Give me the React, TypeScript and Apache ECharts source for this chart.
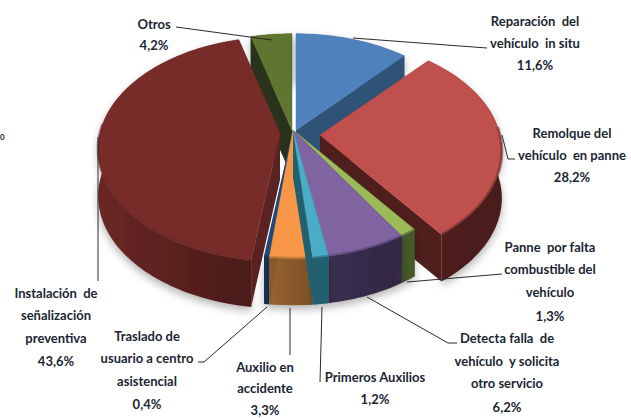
import React, { useEffect, useRef } from "react";
import * as echarts from "echarts";

const categories = [
  "Reparación del vehículo in situ",
  "Remolque del vehículo en panne",
  "Panne por falta combustible del vehículo",
  "Detecta falla de vehículo y solicita otro servicio",
  "Primeros Auxilios",
  "Auxilio en accidente",
  "Traslado de usuario a centro asistencial",
  "Instalación de señalización preventiva",
  "Otros",
];
const values = [11.6, 28.2, 1.3, 6.2, 1.2, 3.3, 0.4, 43.6, 4.2];
const topColors = ["#4F81BD", "#C0504D", "#9BBB59", "#8064A2", "#4BACC6", "#F79646", "#1F497D", "#772C2A", "#5F7530"];
const rimLeft = ["#35587F", "#4F1F1D", "#46592A", "#3A2F50", "#21606F", "#96622F", "#17325A", "#6B2725", "#2A3315"];
const rimRight = ["#35587F", "#4A1C1A", "#46592A", "#2F2740", "#21606F", "#7E5228", "#17325A", "#4A1A19", "#2A3315"];
const edgeColors = ["#2F5277", "#4F1F1D", "#46592A", "#342A48", "#21606F", "#8A5A2C", "#17325A", "#5A2321", "#29321A"];
const explodeX = [3, 27, 0, 0, 0, 0, 0, -13, -1];
const explodeY = [0, 5, 0, 0, 0, 0, 0, 3, 0];
const drawOrder = [8, 0, 7, 1, 2, 3, 6, 5, 4];

const CX = 293, CY = 130, RX = 180, RY = 110, K = 1 / 7, DEPTH = 47;

const labels: { lines: string[]; x: number; ys: number[] }[] = [
  { lines: ["Reparación  del", "vehículo  in situ", "11,6%"], x: 535, ys: [21, 43, 65] },
  { lines: ["Remolque del", "vehículo  en panne", "28,2%"], x: 572, ys: [133, 155, 177] },
  { lines: ["Panne  por falta", "combustible del", "vehículo", "1,3%"], x: 550, ys: [247, 269, 292, 316] },
  { lines: ["Detecta falla  de", "vehículo  y solicita", "otro servicio", "6,2%"], x: 507, ys: [338, 361, 383, 407] },
  { lines: ["Primeros Auxilios", "1,2%"], x: 375, ys: [377, 399] },
  { lines: ["Auxilio en", "accidente", "3,3%"], x: 265, ys: [367, 388, 410] },
  { lines: ["Traslado de", "usuario a centro", "asistencial", "0,4%"], x: 147, ys: [336, 358, 381, 404] },
  { lines: ["Instalación  de", "señalización", "preventiva", "43,6%"], x: 56, ys: [293, 315, 338, 361] },
  { lines: ["Otros", "4,2%"], x: 154, ys: [24, 45] },
];
const leaders: number[][][] = [
  [[353, 38], [460, 46], [487, 48]],
  [[502, 135], [508, 159], [515, 159]],
  [[407, 282], [502, 274]],
  [[367, 297], [448, 343], [457, 343]],
  [[322, 307], [320, 382]],
  [[290, 308], [290, 355]],
  [[267, 307], [204, 362], [198, 362]],
  [[98, 137], [98, 281]],
  [[176, 27], [272, 40]],
];

const total = values.reduce((a, b) => a + b, 0);

function project(theta: number, r: number): number[] {
  const X = Math.sin(theta) * r;
  const Y = -Math.cos(theta) * r;
  const s = 1 / (1 - K * Y);
  return [RX * X * s, RY * Y * s];
}

function renderSlice(params: any, api: any) {
  const idx = api.value(0) as number;
  let before = 0;
  for (let i = 0; i < idx; i++) before += values[i];
  const a0 = (before / total) * Math.PI * 2;
  const a1 = ((before + values[idx]) / total) * Math.PI * 2;
  const ox = CX + explodeX[idx];
  const oy = CY + explodeY[idx];
  const steps = Math.max(4, Math.ceil((a1 - a0) / 0.03));
  const arc: number[][] = [];
  const frontArc: number[][] = [];
  for (let i = 0; i <= steps; i++) {
    const t = a0 + ((a1 - a0) * i) / steps;
    const p = project(t, 1);
    const pt = [ox + p[0], oy + p[1]];
    arc.push(pt);
    if (-Math.cos(t) > -0.1) frontArc.push(pt);
  }
  const down = (p: number[]) => [p[0], p[1] + DEPTH];
  const apex = [ox, oy];
  const first = arc[0];
  const last = arc[arc.length - 1];
  const edge = edgeColors[idx];
  const children: any[] = [
    {
      type: "polygon",
      shape: { points: [...arc, ...arc.map(down).reverse()] },
      style: {
        fill: new echarts.graphic.LinearGradient(0, 0, 1, 0, [
          { offset: 0, color: rimLeft[idx] },
          { offset: 1, color: rimRight[idx] },
        ]),
        shadowBlur: 8,
        shadowColor: "rgba(0,0,0,0.3)",
        shadowOffsetY: 4,
      },
    },
    {
      type: "polygon",
      shape: { points: [apex, first, down(first), down(apex)] },
      style: { fill: edge },
    },
    {
      type: "polygon",
      shape: { points: [apex, last, down(last), down(apex)] },
      style: { fill: edge },
    },
    {
      type: "polygon",
      shape: { points: [apex, ...arc] },
      style: { fill: topColors[idx], stroke: topColors[idx], lineWidth: 0.5 },
    },
  ];
  if (frontArc.length > 1) {
    children.push({
      type: "polyline",
      shape: { points: frontArc },
      style: { stroke: rimLeft[idx], lineWidth: 3, opacity: 0.45, fill: "none" },
    });
  }
  return { type: "group", children };
}

export default function App() {
  const ref = useRef<HTMLDivElement>(null);
  useEffect(() => {
    const chart = echarts.init(ref.current!, undefined, { renderer: "svg" });
    const textStyle = { fill: "#1B2633", font: 'bold 13px Lato, "Noto Sans", sans-serif', textAlign: "center", textVerticalAlign: "middle" };
    const graphics: any[] = [];
    labels.forEach((l) => {
      l.lines.forEach((line, i) => {
        graphics.push({ type: "text", x: l.x, y: l.ys[i], z: 10, style: { ...textStyle, text: line } });
      });
    });
    leaders.forEach((pts) => {
      graphics.push({
        type: "polyline",
        z: 9,
        shape: { points: pts },
        style: { stroke: "#2A2A2A", lineWidth: 1, fill: "none" },
      });
    });
    graphics.push({
      type: "text",
      x: 0,
      y: 137,
      z: 10,
      style: { text: "0", fill: "#1B2633", font: "bold 8px Lato", textVerticalAlign: "middle" },
    });
    chart.setOption({
      animation: false,
      backgroundColor: "#FFFFFF",
      graphic: graphics,
      series: [
        {
          type: "custom",
          coordinateSystem: "none",
          renderItem: renderSlice,
          data: drawOrder.map((i) => ({ name: categories[i], value: [i, values[i]] })),
          silent: true,
          clip: false,
        },
      ],
    });
    return () => chart.dispose();
  }, []);
  return <div ref={ref} style={{ position: "absolute", left: 0, top: 0, width: 631, height: 418 }} />;
}
